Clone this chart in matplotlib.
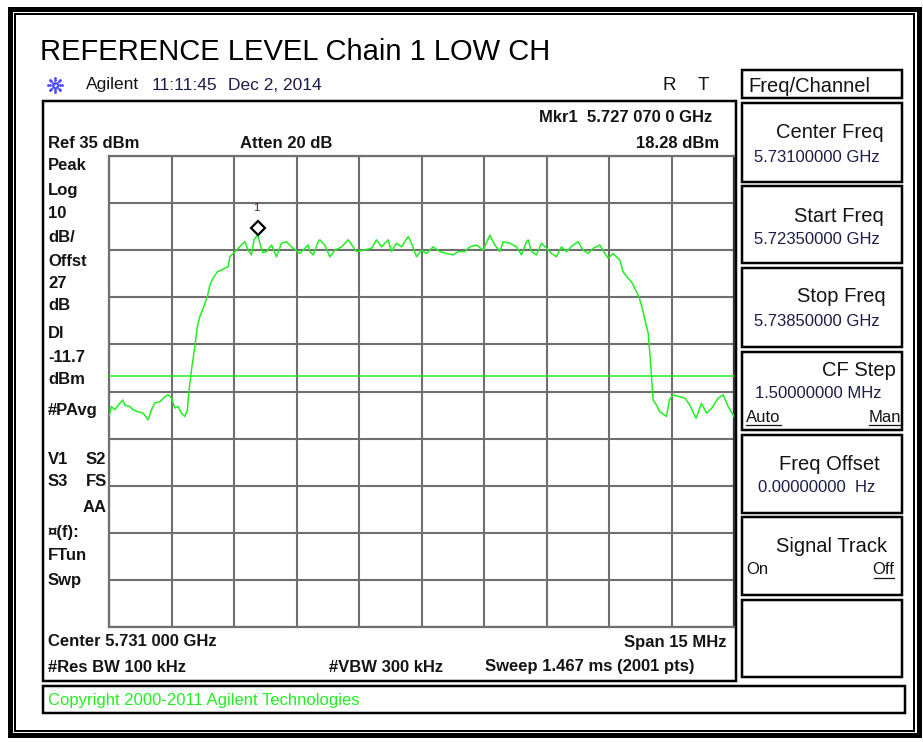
import matplotlib.pyplot as plt
import numpy as np
from matplotlib.patches import Rectangle
from matplotlib.transforms import ScaledTranslation

plt.rcParams['font.family'] = ['Liberation Sans', 'DejaVu Sans']

# Spectrum analyser settings
start_ghz = 5.7235
span_mhz = 15.0
ref_dbm = 35.0
db_div = 10.0
display_line = -11.7
mkr_mhz = 3.57          # 5.727 070 0 GHz - start
mkr_dbm = 18.28

# Trace (MHz from start freq, dBm)
trace_mhz = [0.01, 0.06, 0.14, 0.22, 0.33, 0.38, 0.50, 0.58, 0.70, 0.82, 0.94, 1.02,
             1.10, 1.22, 1.34, 1.42, 1.50, 1.58, 1.66, 1.74, 1.82, 1.88, 1.93, 1.98,
             2.06, 2.12, 2.18, 2.26, 2.36, 2.42, 2.50, 2.60, 2.70, 2.86, 2.90, 2.98,
             3.10, 3.18, 3.26, 3.34, 3.42, 3.48, 3.57, 3.62, 3.69, 3.78, 3.90, 4.02,
             4.14, 4.26, 4.38, 4.58, 4.78, 4.82, 4.90, 5.02, 5.06, 5.18, 5.30, 5.42,
             5.58, 5.74, 5.86, 5.94, 6.10, 6.30, 6.42, 6.54, 6.70, 6.78, 6.90, 7.02,
             7.18, 7.26, 7.38, 7.50, 7.62, 7.78, 7.94, 8.10, 8.26, 8.38, 8.54, 8.66,
             8.82, 8.98, 9.14, 9.26, 9.38, 9.46, 9.62, 9.78, 9.90, 10.02, 10.06, 10.14,
             10.26, 10.38, 10.50, 10.62, 10.74, 10.86, 10.98, 11.14, 11.26, 11.38, 11.50,
             11.62, 11.78, 11.90, 11.98, 12.10, 12.26, 12.34, 12.46, 12.54, 12.62, 12.73,
             12.81, 12.89, 12.94, 12.98, 13.02, 13.06, 13.14, 13.22, 13.38, 13.45, 13.53,
             13.70, 13.82, 13.94, 14.09, 14.22, 14.34, 14.46, 14.62, 14.74, 14.86, 15.0]
trace_dbm = [-20.0, -18.2, -18.9, -17.9, -16.8, -17.9, -18.2, -18.9, -19.3, -19.6, -21.0, -18.9,
             -17.4, -17.2, -16.1, -15.7, -16.4, -18.5, -18.2, -19.6, -20.3, -18.9, -14.0, -10.4,
             -5.5, -1.2, 0.9, 2.7, 5.1, 7.6, 9.1, 10.4, 10.8, 11.5, 13.6, 14.3,
             15.4, 16.1, 16.8, 15.0, 14.0, 17.2, 18.28, 16.5, 14.5, 14.7, 16.1, 13.6,
             16.5, 16.8, 15.7, 14.3, 16.1, 14.7, 14.0, 16.8, 17.2, 16.1, 13.6, 15.0,
             15.7, 17.2, 15.7, 14.7, 15.0, 15.4, 17.2, 15.7, 17.2, 14.7, 16.5, 15.7,
             17.9, 16.5, 13.6, 15.0, 14.3, 15.7, 14.7, 14.3, 14.0, 14.7, 14.7, 15.7,
             16.1, 15.0, 18.2, 16.1, 14.7, 16.8, 16.5, 15.7, 14.0, 16.8, 17.2, 14.7,
             14.0, 16.5, 15.4, 14.3, 13.6, 15.7, 14.7, 16.1, 16.8, 15.0, 14.3,
             15.4, 16.1, 14.3, 13.3, 14.3, 12.9, 10.4, 9.0, 8.3, 6.9, 4.8,
             2.3, -0.9, -2.6, -6.9, -11.9, -16.8, -17.9, -19.3, -20.3, -16.8, -15.7,
             -16.1, -16.4, -17.9, -20.7, -17.5, -19.6, -18.6, -16.4, -15.7, -18.2, -20.3]

left_labels = [("Peak", 165), ("Log", 190), ("10", 213), ("dB/", 237), ("Offst", 261),
               ("27", 283), ("dB", 305), ("Dl", 334), ("-11.7", 357), ("dBm", 379),
               ("#PAvg", 410), ("V1", 459), ("S3", 482), ("\u00a4(f):", 532),
               ("FTun", 556), ("Swp", 580)]

W, H = 923, 742
fig = plt.figure(figsize=(W / 100, H / 100), dpi=100)
bg = fig.add_axes([0, 0, 1, 1])
bg.set_xlim(0, W)
bg.set_ylim(H, 0)
bg.axis('off')

px = 0.72  # points per pixel
dark = '#141414'
navy = '#1c1c48'
green = '#22ee22'

def box(x0, y0, x1, y1, lw=2.5, ec='black'):
    bg.add_patch(Rectangle((x0, y0), x1 - x0, y1 - y0, fill=False, ec=ec, lw=lw * px))

# outer frame (double line)
box(9.5, 9, 918.5, 735, lw=5)
box(14.5, 14, 914, 730.5, lw=2)

# title
bg.text(40, 52, "REFERENCE LEVEL Chain 1 LOW CH", fontsize=21, color='black', va='center')

# agilent spark logo
for a in np.linspace(0, 2 * np.pi, 8, endpoint=False):
    r = np.array([2.5, 5, 7])
    bg.plot(55 + r * np.cos(a), 85 + r * np.sin(a), ls='none', marker='o', ms=1.0,
            color='#4a4aff')
bg.text(86, 85, "Agilent", fontsize=12.5, color=dark, va='center')
bg.text(152, 85, "11:11:45", fontsize=12.5, color=navy, va='center')
bg.text(228, 85, "Dec 2, 2014", fontsize=12.5, color=navy, va='center')
bg.text(662, 85, "R", fontsize=13.5, color=dark, va='center')
bg.text(698, 85, "T", fontsize=13.5, color=dark, va='center')

# main analyser panel
box(43, 100.5, 736, 681, lw=2.5)
bold = dict(fontsize=12, fontweight='bold', color=dark, va='center')
bg.text(712, 118, "Mkr1  5.727 070 0 GHz", ha='right', **bold)
bg.text(719, 144, "18.28 dBm", ha='right', **bold)
bg.text(48, 144, "Ref 35 dBm", **bold)
bg.text(240, 144, "Atten 20 dB", **bold)
for s, y in left_labels:
    bg.text(48, y, s, **bold)
bg.text(86, 459, "S2", **bold)
bg.text(86, 482, "FS", **bold)
bg.text(107, 508, "AA", ha='right', **bold)
bg.text(48, 642, "Center 5.731 000 GHz", **bold)
bg.text(727, 642, "Span 15 MHz", ha='right', **bold)
bg.text(48, 667, "#Res BW 100 kHz", **bold)
bg.text(329, 667, "#VBW 300 kHz", **bold)
bg.text(485, 667, "Sweep 1.467 ms (2001 pts)", **bold)

# copyright bar
box(43, 686, 905, 713, lw=2.5)
bg.text(48, 701, "Copyright 2000-2011 Agilent Technologies", fontsize=12, color=green, va='center')

# softkeys
box(742, 70, 902, 98, lw=2.5)
bg.text(748, 86, "Freq/Channel", fontsize=14.5, color=dark, va='center')
keys = [(103, 182), (186, 263), (268, 347), (352, 430), (435, 513), (517, 595), (600, 677)]
for y0, y1 in keys:
    box(742, y0, 902, y1, lw=2.5)
big = dict(fontsize=14.5, color=dark, va='center', ha='right')
small = dict(fontsize=12, color=navy, va='center')
bg.text(884, 132, "Center Freq", **big)
bg.text(754, 157, "5.73100000 GHz", **small)
bg.text(884, 216, "Start Freq", **big)
bg.text(754, 240, "5.72350000 GHz", **small)
bg.text(886, 297, "Stop Freq", **big)
bg.text(754, 322, "5.73850000 GHz", **small)
bg.text(896, 370, "CF Step", **big)
bg.text(755, 394, "1.50000000 MHz", **small)
bg.text(746, 417, "Auto", fontsize=12, color=dark, va='center')
bg.text(901, 417, "Man", fontsize=12, color=dark, va='center', ha='right')
bg.plot([746, 781], [425, 425], color=dark, lw=0.9)
bg.plot([869, 901], [425, 425], color=dark, lw=0.9)
bg.text(880, 465, "Freq Offset", **big)
bg.text(758, 488, "0.00000000  Hz", **small)
bg.text(887, 547, "Signal Track", **big)
bg.text(746, 570, "On", fontsize=12, color=dark, va='center')
bg.text(894, 570, "Off", fontsize=12, color=dark, va='center', ha='right')
bg.plot([874, 894], [578, 578], color=dark, lw=0.9)

# trace window
ax = fig.add_axes([109 / W, 1 - 627 / H, 625 / W, 471 / H])
ax.set_xlim(0, span_mhz)
ax.set_ylim(ref_dbm - 10 * db_div, ref_dbm)
ax.set_xticks(np.linspace(0, span_mhz, 11))
ax.set_yticks(np.arange(ref_dbm - 10 * db_div, ref_dbm + 1, db_div))
ax.tick_params(length=0, labelbottom=False, labelleft=False)
ax.grid(True, color='#6f6f6f', lw=1.5)
for sp in ax.spines.values():
    sp.set_color('#6f6f6f')
    sp.set_linewidth(1.6)
ax.spines['right'].set_color('#333333')

ax.axhline(display_line, color=green, lw=1.1, zorder=3)
ax.plot(trace_mhz, trace_dbm, color=green, lw=1.1, zorder=4)

off = ax.transData + ScaledTranslation(0, 7 / 100, fig.dpi_scale_trans)
ax.plot([mkr_mhz], [mkr_dbm], marker='D', ms=7, mfc='white', mec='black', mew=1.6,
        transform=off, zorder=5, clip_on=False)
ax.annotate("1", (mkr_mhz, mkr_dbm), xytext=(-1, 19), textcoords='offset points',
            ha='center', va='center', fontsize=8, color='#402020')

fig.savefig("out.png", dpi=100)
